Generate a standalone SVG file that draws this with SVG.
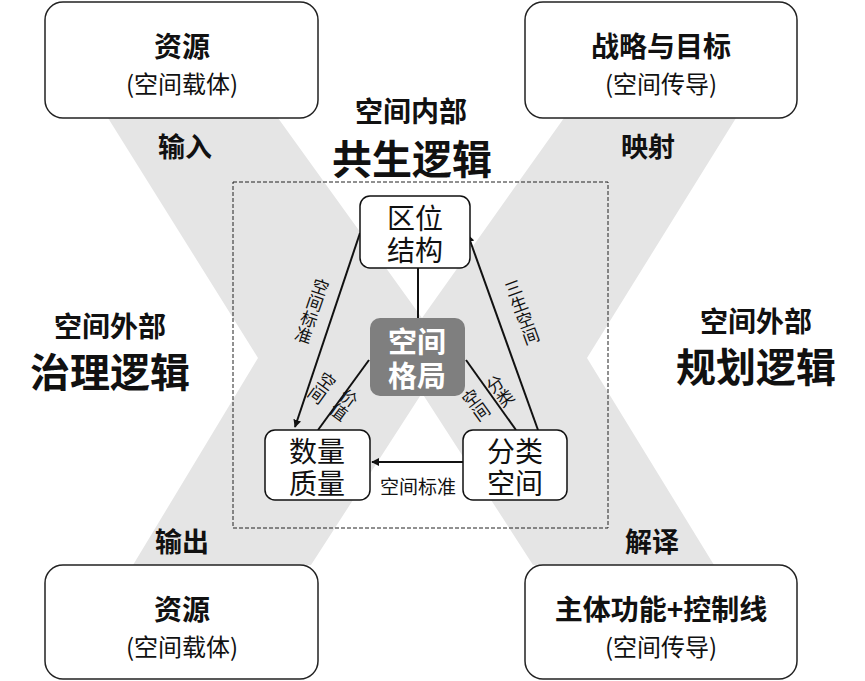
<svg xmlns="http://www.w3.org/2000/svg" width="865" height="681" viewBox="0 0 865 681">
<defs>
<style>
text{font-family:"Noto Sans CJK SC","Noto Sans",sans-serif;fill:#111;}
.b{font-weight:bold;}
.big{fill:#fff;stroke:#222;stroke-width:1.5;}
.nd{fill:#fff;stroke:#111;stroke-width:1.5;}
.ln{stroke:#111;stroke-width:2;fill:none;}
.v{writing-mode:vertical-rl;font-size:17px;}
</style>
<marker id="ar" viewBox="0 0 10 10" refX="9" refY="5" markerWidth="8" markerHeight="8" orient="auto" markerUnits="userSpaceOnUse"><path d="M0,0L10,5L0,10z" fill="#111"/></marker>
</defs>
<rect width="865" height="681" fill="#fff"/>
<polygon fill="#e5e5e5" points="108,118 278,118 422,318 564,118 736,118 587,358 714,565 533,565 422,393 311,565 133,565 258,358"/>
<g id="box-tl"><rect class="big" x="45" y="2" width="273" height="116" rx="18"/><text class="b" x="182" y="57" font-size="28" text-anchor="middle">资源</text><text x="182" y="93" font-size="24" text-anchor="middle">(空间载体)</text></g>
<g id="box-tr"><rect class="big" x="525" y="2" width="272" height="116" rx="18"/><text class="b" x="661" y="57" font-size="28" text-anchor="middle">战略与目标</text><text x="661" y="93" font-size="24" text-anchor="middle">(空间传导)</text></g>
<g id="box-bl"><rect class="big" x="45" y="565" width="273" height="114" rx="18"/><text class="b" x="182" y="620" font-size="28" text-anchor="middle">资源</text><text x="182" y="656" font-size="24" text-anchor="middle">(空间载体)</text></g>
<g id="box-br"><rect class="big" x="525" y="565" width="272" height="114" rx="18"/><text class="b" x="661" y="620" font-size="28" text-anchor="middle">主体功能+控制线</text><text x="661" y="656" font-size="24" text-anchor="middle">(空间传导)</text></g>
<g id="labels">
<text class="b" x="185" y="157" font-size="27" text-anchor="middle">输入</text>
<text class="b" x="648" y="157" font-size="27" text-anchor="middle">映射</text>
<text class="b" x="182" y="552" font-size="27" text-anchor="middle">输出</text>
<text class="b" x="652" y="552" font-size="27" text-anchor="middle">解译</text>
<text class="b" x="411" y="122" font-size="28" text-anchor="middle">空间内部</text>
<text class="b" x="412" y="174" font-size="40" text-anchor="middle">共生逻辑</text>
<text class="b" x="110" y="337" font-size="28" text-anchor="middle">空间外部</text>
<text class="b" x="110" y="387" font-size="40" text-anchor="middle">治理逻辑</text>
<text class="b" x="756" y="332" font-size="28" text-anchor="middle">空间外部</text>
<text class="b" x="756" y="382" font-size="40" text-anchor="middle">规划逻辑</text>
</g>
<rect x="233" y="182" width="375" height="346" fill="none" stroke="#222" stroke-width="1" stroke-dasharray="4,2"/>
<g id="connectors">
<line class="ln" x1="418" y1="268" x2="418" y2="318"/>
<line class="ln" x1="369" y1="360" x2="318" y2="430"/>
<line class="ln" x1="466" y1="360" x2="516" y2="430"/>
<line class="ln" x1="360" y1="233" x2="295" y2="427" marker-end="url(#ar)"/>
<line class="ln" x1="538" y1="430" x2="468" y2="235" marker-end="url(#ar)"/>
<line class="ln" x1="463" y1="462" x2="372" y2="462" marker-end="url(#ar)"/>
<text class="v" transform="translate(312,311) rotate(19)" text-anchor="middle">空间标准</text>
<text class="v" transform="translate(522,312) rotate(-20)" text-anchor="middle">三生空间</text>
<text class="v" transform="translate(322,388) rotate(36)" text-anchor="middle">空间</text>
<text class="v" transform="translate(344,405) rotate(36)" text-anchor="middle">价值</text>
<text class="v" transform="translate(476,405) rotate(-36)" text-anchor="middle">空间</text>
<text class="v" transform="translate(500,391) rotate(-36)" text-anchor="middle">分类</text>
<text x="418" y="494" font-size="19" text-anchor="middle">空间标准</text>
</g>
<g id="n-quwei"><rect class="nd" x="360" y="196" width="110" height="72" rx="10"/><text x="415" y="229" font-size="28" text-anchor="middle">区位</text><text x="415" y="261" font-size="28" text-anchor="middle">结构</text></g>
<g id="n-shuliang"><rect class="nd" x="265" y="430" width="105" height="70" rx="10"/><text x="317" y="462" font-size="28" text-anchor="middle">数量</text><text x="317" y="494" font-size="28" text-anchor="middle">质量</text></g>
<g id="n-fenlei"><rect class="nd" x="463" y="430" width="104" height="70" rx="10"/><text x="515" y="462" font-size="28" text-anchor="middle">分类</text><text x="515" y="494" font-size="28" text-anchor="middle">空间</text></g>
<g id="n-center"><rect x="370" y="318" width="95" height="78" rx="10" fill="#7f7f7f"/><text class="b" x="417" y="353" font-size="29" text-anchor="middle" style="fill:#fff">空间</text><text class="b" x="417" y="387" font-size="29" text-anchor="middle" style="fill:#fff">格局</text></g>
</svg>
